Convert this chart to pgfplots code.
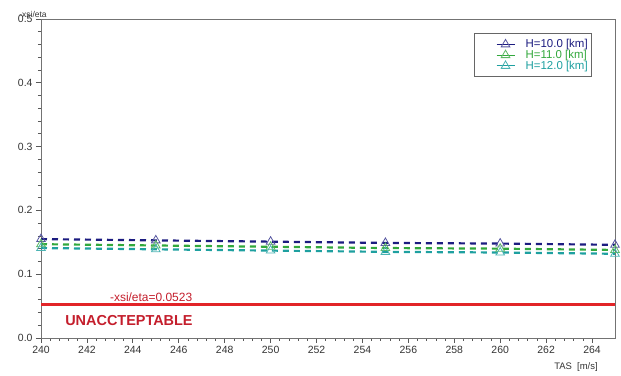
\documentclass[border=0pt]{standalone}
\usepackage{fontspec}
\setmainfont{Liberation Sans}
\usepackage{pgfplots}
\pgfplotsset{compat=1.18}

\definecolor{hnavy}{RGB}{28,28,128}
\definecolor{hgreen}{RGB}{50,168,60}
\definecolor{hteal}{RGB}{30,160,160}
\definecolor{limitred}{RGB}{226,36,40}
\definecolor{labelred}{RGB}{196,30,44}

\begin{document}
\begin{tikzpicture}
\begin{axis}[
  scale only axis,
  width=574bp, height=319bp,
  xmin=240, xmax=265, ymin=0, ymax=0.5,
  xtick={240,242,244,246,248,250,252,254,256,258,260,262,264},
  ytick={0,0.1,0.2,0.3,0.4,0.5},
  minor x tick num=4, minor y tick num=4,
  tick align=outside, xtick pos=bottom, ytick pos=left,
  major tick length=5bp, minor tick length=3bp,
  axis line style={draw=black!55, line width=0.9pt},
  tick style={black!65, line width=0.7pt},
  ticklabel style={font=\fontsize{10.5}{12}\selectfont, text=black!80},
  /pgf/number format/assume math mode=true,
  yticklabel style={/pgf/number format/fixed, /pgf/number format/precision=1, /pgf/number format/fixed zerofill},
  xticklabel style={/pgf/number format/1000 sep={}},
  clip=false,
  legend style={at={(0.96,0.956)}, anchor=north east, draw=black!60, line width=0.7pt,
    font=\fontsize{11.5}{10}\selectfont, row sep=1.5bp, inner xsep=2bp, inner ysep=6bp,
    nodes={inner ysep=0pt, text height=7.5bp, text depth=1bp}},
  legend cell align=left,
  legend image code/.code={\path (-19bp,0bp) (26bp,0bp);
    \draw[solid, line width=0.8pt, mark repeat=2, mark phase=2, mark size=5bp]
    plot coordinates {(0bp,0bp) (9bp,0bp) (18bp,0bp)};},
]
\addplot[hnavy, line width=2.2pt, dash pattern=on 6bp off 5bp,
  mark=triangle, mark size=5bp, mark options={solid, line width=0.8pt, draw=hnavy!75}]
  coordinates {(240,0.155) (245,0.153) (250,0.151) (255,0.149) (260,0.148) (265,0.146)};
\addlegendentry{\textcolor{hnavy}{H=10.0 [km]}}
\addplot[hgreen, line width=2.2pt, dash pattern=on 6bp off 5bp,
  mark=triangle, mark size=5bp, mark options={solid, line width=0.8pt, draw=hgreen!80}]
  coordinates {(240,0.147) (245,0.145) (250,0.143) (255,0.141) (260,0.140) (265,0.138)};
\addlegendentry{\textcolor{hgreen}{H=11.0 [km]}}
\addplot[hteal, line width=2.2pt, dash pattern=on 6bp off 5bp,
  mark=triangle, mark size=5bp, mark options={solid, line width=0.8pt, draw=hteal!80}]
  coordinates {(240,0.141) (245,0.139) (250,0.137) (255,0.135) (260,0.134) (265,0.132)};
\addlegendentry{\textcolor{hteal}{H=12.0 [km]}}
% limit value
\addplot[limitred, line width=2.4pt, forget plot] coordinates {(240,0.0523) (265,0.0523)};
\node[anchor=west, text=labelred, font=\fontsize{12}{14}\selectfont, inner sep=0pt]
  at (axis cs:243.0,0.064) {-xsi/eta=0.0523};
\node[anchor=west, text=labelred, font=\bfseries\fontsize{14.5}{17}\selectfont, inner sep=0pt]
  at (axis cs:241.05,0.028) {UNACCTEPTABLE};
\end{axis}
\node[font=\fontsize{8.5}{10}\selectfont, text=black!80]
  at ([shift={(-8bp,5bp)}]current axis.north west) {-xsi/eta};
\node[font=\fontsize{9.5}{10}\selectfont, text=black!80]
  at ([shift={(-39bp,-29bp)}]current axis.south east) {TAS\ \ [m/s]};
\pgfresetboundingbox
\path ([shift={(-41bp,-38bp)}]current axis.south west) rectangle ([shift={(6bp,19bp)}]current axis.north east);
\end{tikzpicture}
\end{document}
